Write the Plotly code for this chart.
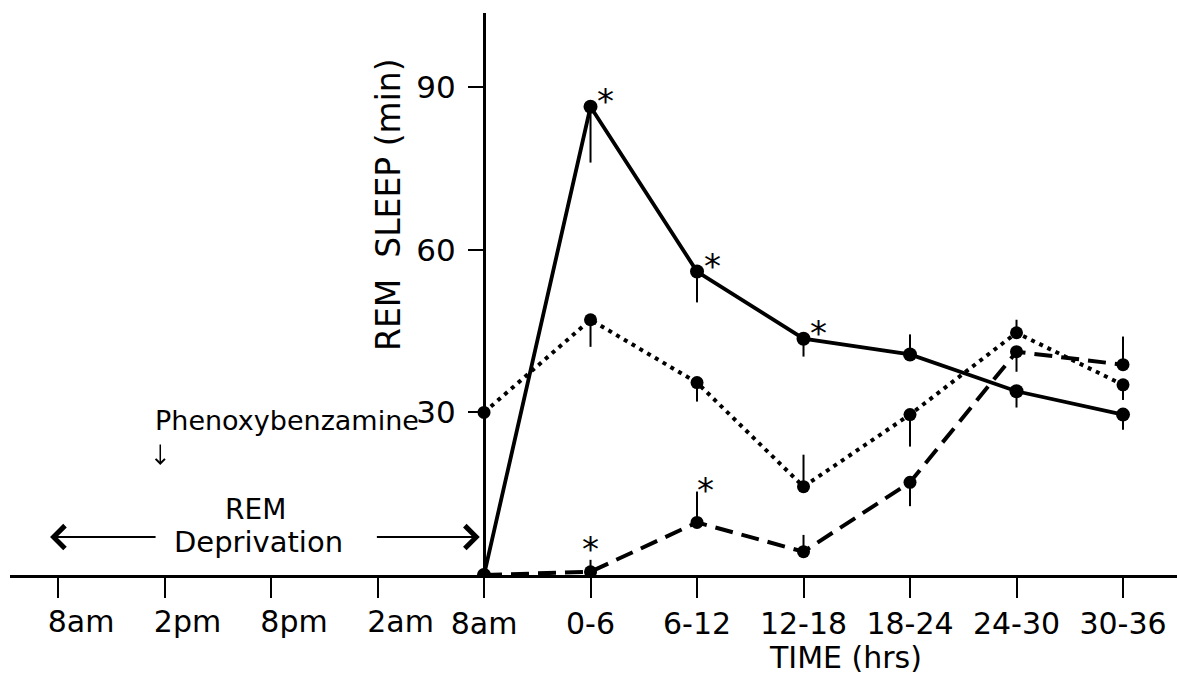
import plotly.graph_objects as go

# ---------------- data ----------------
tick_labels = ["8am", "2pm", "8pm", "2am", "8am", "0-6", "6-12", "12-18", "18-24", "24-30", "30-36"]
series_categories = ["8am", "0-6", "6-12", "12-18", "18-24", "24-30", "30-36"]

solid_vals = [0, 86.4, 56.0, 43.6, 40.7, 33.9, 29.6]
solid_err_up = [0, 0, 0, 0, 3.7, 0, 0]
solid_err_down = [0, 10.3, 5.7, 3.3, 0, 3.0, 2.8]

dotted_vals = [30, 47.1, 35.5, 16.3, 29.6, 44.7, 35.1]
dotted_err_up = [0, 0, 0, 5.9, 0, 2.4, 0]
dotted_err_down = [0, 5.0, 3.5, 0, 5.9, 0, 2.8]

dashed_vals = [0, 0.6, 9.7, 4.3, 17.1, 41.2, 38.8]
dashed_err_up = [0, 2.2, 5.7, 3.1, 0, 0, 5.2]
dashed_err_down = [0, 0, 0, 0, 4.4, 3.7, 0]

sig_solid = ["0-6", "6-12", "12-18"]
sig_dashed = ["0-6", "6-12"]

y_ticks = [30, 60, 90]

# ---------------- helpers ----------------
offset = len(tick_labels) - len(series_categories)
x_pos = [offset + i for i in range(len(series_categories))]
cat_index = {c: offset + i for i, c in enumerate(series_categories)}

X_RANGE = [-0.451, 10.507]
Y_RANGE = [0, 103.7]
FONT = "DejaVu Sans"

fig = go.Figure()


def add_series(vals, up, down, dash, width, msize):
    fig.add_trace(go.Scatter(
        x=x_pos, y=vals, mode="lines+markers",
        line=dict(color="black", width=width, dash=dash),
        marker=dict(color="black", size=msize, symbol="circle"),
        error_y=dict(type="data", symmetric=False, array=up, arrayminus=down,
                     width=0, thickness=2, color="black"),
        hoverinfo="x+y",
    ))


add_series(dashed_vals, dashed_err_up, dashed_err_down, "18px,9px", 4, 13)
add_series(dotted_vals, dotted_err_up, dotted_err_down, "4px,5px", 4, 13)
add_series(solid_vals, solid_err_up, solid_err_down, "solid", 3.8, 14)

# empty trace binding the secondary (label) x axis
fig.add_trace(go.Scatter(x=[], y=[], xaxis="x2", yaxis="y", showlegend=False))

# significance asterisks
for c in sig_solid:
    i = series_categories.index(c)
    fig.add_annotation(x=cat_index[c], y=solid_vals[i], xref="x", yref="y",
                       text="*", showarrow=False, xshift=15, yshift=6,
                       font=dict(family=FONT, size=34, color="black"))
for c, xs, ys in zip(sig_dashed, [0, 8], [23, 32]):
    i = series_categories.index(c)
    fig.add_annotation(x=cat_index[c], y=dashed_vals[i], xref="x", yref="y",
                       text="*", showarrow=False, xshift=xs, yshift=ys,
                       font=dict(family=FONT, size=34, color="black"))

# text annotations
fig.add_annotation(x=0.892, y=28.6, xref="x", yref="y", xanchor="left", yanchor="middle",
                   text="Phenoxybenzamine", showarrow=False,
                   font=dict(family=FONT, size=27, color="black"))
fig.add_annotation(x=0.96, y=20.3, xref="x", yref="y", text="", showarrow=True,
                   ax=0, ay=-22, arrowhead=4, arrowsize=1.2, arrowwidth=1.5, arrowcolor="black")
fig.add_annotation(x=1.85, y=12.1, xref="x", yref="y", text="REM", showarrow=False,
                   font=dict(family=FONT, size=28, color="black"))
fig.add_annotation(x=1.88, y=6.1, xref="x", yref="y", text="Deprivation", showarrow=False,
                   font=dict(family=FONT, size=29, color="black"))
# REM deprivation arrows
fig.add_annotation(x=-0.075, y=7.0, xref="x", yref="y", axref="x", ayref="y",
                   ax=0.93, ay=7.0, text="", showarrow=True,
                   arrowhead=4, arrowsize=2.2, arrowwidth=2, arrowcolor="black")
fig.add_annotation(x=3.96, y=7.0, xref="x", yref="y", axref="x", ayref="y",
                   ax=2.98, ay=7.0, text="", showarrow=True,
                   arrowhead=4, arrowsize=2.2, arrowwidth=2, arrowcolor="black")

# axis titles as annotations
fig.add_annotation(x=(388 - 10) / 1167, y=(575 - 205) / 562, xref="paper", yref="paper",
                   xanchor="center", yanchor="middle", text="REM  SLEEP (min)",
                   textangle=-90, showarrow=False, font=dict(family=FONT, size=33, color="black"))
fig.add_annotation(x=(845 - 10) / 1167, y=(575 - 657) / 562, xref="paper", yref="paper",
                   xanchor="center", yanchor="middle", text="TIME (hrs)",
                   showarrow=False, font=dict(family=FONT, size=30, color="black"))

yaxis_pos = (offset - X_RANGE[0]) / (X_RANGE[1] - X_RANGE[0])

fig.update_layout(
    width=1177, height=679,
    margin=dict(l=10, r=0, t=13, b=104),
    plot_bgcolor="white", paper_bgcolor="white",
    showlegend=False,
    font=dict(family=FONT, size=30, color="black"),
    xaxis=dict(
        range=X_RANGE, tickmode="array", tickvals=list(range(len(tick_labels))),
        ticktext=["" if i < offset else t for i, t in enumerate(tick_labels)],
        ticks="outside", ticklen=20, tickwidth=2, tickcolor="black",
        showline=True, linewidth=3, linecolor="black",
        showgrid=False, zeroline=False, anchor="y",
        tickfont=dict(family=FONT, size=30, color="black"),
    ),
    xaxis2=dict(
        range=X_RANGE, overlaying="x", matches="x", anchor="y", side="bottom",
        tickmode="array", tickvals=list(range(offset)), ticktext=tick_labels[:offset],
        ticks="outside", ticklen=20, tickwidth=0, tickcolor="rgba(0,0,0,0)",
        showline=False, showgrid=False, zeroline=False, ticklabelshift=23,
        tickfont=dict(family=FONT, size=30, color="black"),
    ),
    yaxis=dict(
        range=Y_RANGE, anchor="free", position=yaxis_pos,
        tickmode="array", tickvals=y_ticks,
        ticks="outside", ticklen=15, tickwidth=2, tickcolor="black",
        showline=True, linewidth=3, linecolor="black",
        showgrid=False, zeroline=False, ticklabelstandoff=6,
        tickfont=dict(family=FONT, size=31, color="black"),
    ),
)

fig.write_html("out.html")
